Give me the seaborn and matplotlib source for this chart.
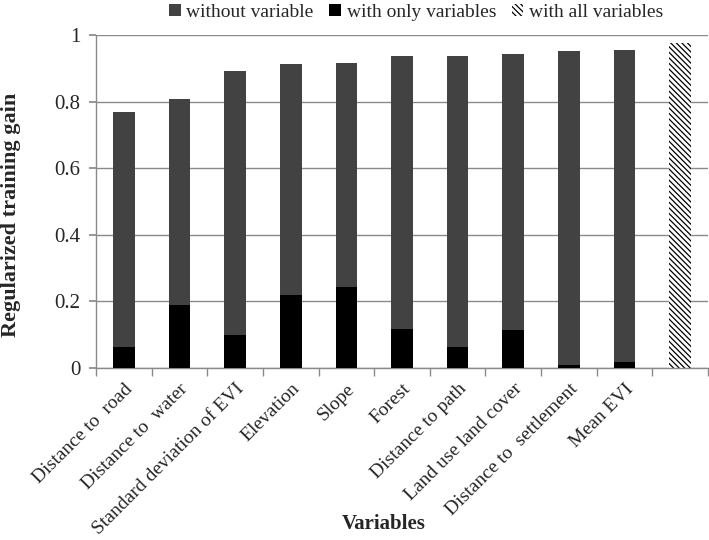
import matplotlib
matplotlib.use("Agg")
import matplotlib.pyplot as plt
import matplotlib.patches as mpatches
import seaborn as sns
import pandas as pd
import numpy as np

categories = ["Distance to  road", "Distance to  water", "Standard deviation of EVI",
              "Elevation", "Slope", "Forest", "Distance to path",
              "Land use land cover", "Distance to  settlement", "Mean EVI", ""]
without_variable = [0.770, 0.809, 0.891, 0.912, 0.917, 0.938, 0.938, 0.943, 0.951, 0.956, 0.975]
with_only = [0.062, 0.188, 0.097, 0.220, 0.242, 0.115, 0.063, 0.113, 0.008, 0.018, 0.0]
legend_labels = ["without variable", "with only variables", "with all variables"]
y_ticks = [0, 0.2, 0.4, 0.6, 0.8, 1.0]
y_tick_labels = ["0", "0.2", "0.4", "0.6", "0.8", "1"]

sns.set_theme(style="white")
plt.rcParams['font.family'] = ['Liberation Serif', 'DejaVu Serif']
plt.rcParams['hatch.linewidth'] = 0.9
plt.rcParams['hatch.color'] = 'black'

df = pd.DataFrame({"cat": categories, "without": without_variable, "only": with_only})

fig = plt.figure(figsize=(7.09, 5.40), dpi=100)
ax = fig.add_axes([0.1354, 0.3190, 0.8632, 0.6162])

dark = "#424242"
sns.barplot(data=df, x="cat", y="without", color=dark, saturation=1, width=0.39,
            ax=ax, zorder=2, order=categories, linewidth=0, edgecolor="none")
n_first = len(ax.patches)
# last bar: with all variables (hatched)
last = ax.patches[n_first - 1]
last.set_facecolor("white")
last.set_hatch("\\" * 6)
last.set_edgecolor("black")
last.set_linewidth(0)

sns.barplot(data=df, x="cat", y="only", color="black", saturation=1, width=0.39,
            ax=ax, zorder=3, order=categories, linewidth=0, edgecolor="none")

ax.set_ylim(0, 1)
ax.set_xlim(-0.5, len(categories) - 0.5)
ax.set_yticks(y_ticks)
ax.set_yticklabels(y_tick_labels, fontsize=15)
ax.yaxis.grid(True, color="#8a8a8a", linewidth=1.0, zorder=0)
ax.set_axisbelow(True)

for s in ["top", "right"]:
    ax.spines[s].set_visible(False)
ax.spines["left"].set_color("#8a8a8a")
ax.spines["bottom"].set_color("#8a8a8a")
ax.spines["left"].set_linewidth(1.0)
ax.spines["bottom"].set_linewidth(1.0)

ax.tick_params(axis="y", which="major", left=True, length=5, color="#8a8a8a", pad=6)
ax.set_xticks(range(len(categories)))
ax.set_xticklabels(categories, rotation=45, ha="right", rotation_mode="anchor", fontsize=14)
ax.tick_params(axis="x", which="major", length=0, pad=9)
ax.set_xticks(np.arange(-0.5, len(categories) + 0.5, 1), minor=True)
ax.tick_params(axis="x", which="minor", bottom=True, length=6, color="#8a8a8a", width=1.0)

ax.set_xlabel("Variables", fontsize=15, fontweight="bold")
ax.set_ylabel("Regularized training gain", fontsize=16, fontweight="bold")
ax.xaxis.set_label_coords(0.47, -0.44)
ax.yaxis.set_label_coords(-0.122, 0.46)

h1 = mpatches.Patch(facecolor=dark, edgecolor="none", label=legend_labels[0])
h2 = mpatches.Patch(facecolor="black", edgecolor="none", label=legend_labels[1])
h3 = mpatches.Patch(facecolor="white", edgecolor="black", linewidth=0, hatch="\\" * 6, label=legend_labels[2])
fig.legend(handles=[h1, h2, h3], loc="center", bbox_to_anchor=(0.587, 0.977), ncol=3,
           frameon=False, fontsize=14, handlelength=0.6, handleheight=0.6,
           handletextpad=0.3, columnspacing=0.8)

fig.savefig("out.png", dpi=100)
